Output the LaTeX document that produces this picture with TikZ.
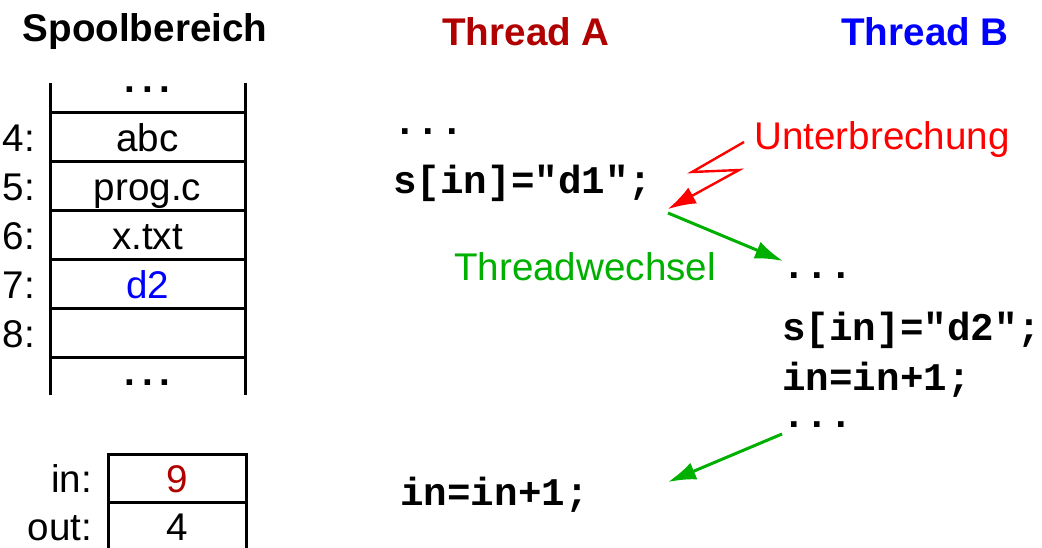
\documentclass[tikz,border=0pt]{standalone}
\usepackage{xcolor}
\usepackage{fontspec}
\setmainfont{Liberation Sans}
\setmonofont{Liberation Mono}
\usepackage{tikz}
\usetikzlibrary{arrows.meta,positioning}
\definecolor{darkred}{RGB}{176,0,0}
\definecolor{wgreen}{RGB}{0,176,0}
\tikzstyle{head} = [font=\fontsize{19.3}{22}\selectfont\bfseries]
\tikzstyle{txt} = [font=\fontsize{19.3}{22}\selectfont]
\tikzstyle{even} = [txt, text height=17pt, text depth=2.5pt]
\tikzstyle{cell} = [rectangle, draw, line width=1.5pt, minimum width=97.5pt,
    minimum height=24.5pt, inner sep=0pt, outer sep=0pt, even]
\tikzstyle{regbox} = [cell, minimum width=69pt, minimum height=24pt]
\tikzstyle{wall} = [draw, line width=1.5pt]
\tikzstyle{dots} = [font=\fontsize{19.3}{22}\selectfont\bfseries, inner sep=0pt]
\tikzstyle{code} = [anchor=west, inner sep=0pt, font=\fontsize{19.6}{22}\selectfont\ttfamily\bfseries]
\tikzstyle{bolt} = [draw, red, line width=1.2pt, -{Latex[length=14pt,width=9pt]}]
\tikzstyle{switch} = [draw, wgreen, line width=1.5pt, -{Latex[length=14pt,width=9pt]}]

\begin{document}
\begin{tikzpicture}[x=0.5pt, y=-0.5pt, node distance=0pt]
    \useasboundingbox (0,0) rectangle (1042,547);
    \clip (0,0) rectangle (1042,547);
    % Nodes
    \node [head] (spool) at (145,32) {Spoolbereich};
    \node [head, text=darkred] (tha) at (526,32) {Thread A};
    \node [head, text=blue] (thb) at (925,32) {Thread B};

    \node [cell] (c4) at (147.5,136.5) {abc};
    \node [cell, below=of c4] (c5) {prog.c};
    \node [cell, below=of c5] (c6) {x.txt};
    \node [cell, below=of c6, text=blue] (c7) {d2};
    \node [cell, below=of c7] (c8) {};
    \node [dots] (dtop) at (147.5,90) {.\,.\,.};
    \node [dots] (dbot) at (147.5,383) {.\,.\,.};

    \node [even, left=4pt of c4] (l4) {4:};
    \node [even, left=4pt of c5] (l5) {5:};
    \node [even, left=4pt of c6] (l6) {6:};
    \node [even, left=4pt of c7] (l7) {7:};
    \node [even, left=4pt of c8] (l8) {8:};

    \node [regbox, text=darkred] (rin) at (177,478) {9};
    \node [regbox, below=of rin] (rout) {4};
    \node [even, left=4.5pt of rin] (lin) {in:};
    \node [even, left=4.5pt of rout] (lout) {out:};

    \node [code] (a0) at (393,132) {...};
    \node [code] (a1) at (393,183) {s[in]="d1";};
    \node [code] (a2) at (400,495) {in=in+1;};
    \node [code] (b0) at (782,276) {...};
    \node [code] (b1) at (782,330) {s[in]="d2";};
    \node [code] (b2) at (782,380) {in=in+1;};
    \node [code] (b3) at (782,425) {...};

    \node [txt, text=red] (unt) at (882,140) {Unterbrechung};
    \node [txt, text=wgreen] (tw) at (585,267) {Threadwechsel};

    \coordinate (zz0) at (744,142);
    \coordinate (zz1) at (692,172);
    \coordinate (zz2) at (739,170);
    \coordinate (hit) at (668,209);
    \coordinate (go) at (668,213);
    \coordinate (arrB) at (783,261);
    \coordinate (back) at (782,434);
    \coordinate (arrA) at (668,482);

    % Edges
    \path [wall] (c4.north west) -- ++(0,-29);
    \path [wall] (c4.north east) -- ++(0,-29);
    \path [wall] (c8.south west) -- ++(0,38);
    \path [wall] (c8.south east) -- ++(0,38);
    \path [wall] (rout.south west) -- ++(0,10);
    \path [bolt] (zz0) -- (zz1) -- (zz2) -- (hit);
    \path [switch] (go) -- (arrB);
    \path [switch] (back) -- (arrA);
\end{tikzpicture}
\end{document}
